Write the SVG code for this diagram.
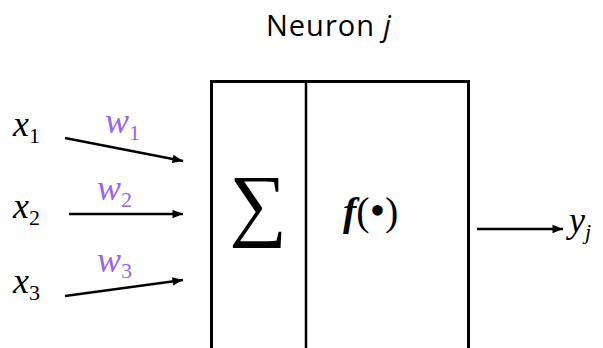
<svg xmlns="http://www.w3.org/2000/svg" width="603" height="348" viewBox="0 0 603 348">
<defs>
<marker id="ah" viewBox="0 0 10 10" refX="10" refY="5" markerWidth="4.6" markerHeight="4.2" orient="auto" markerUnits="strokeWidth">
<path d="M0,1 L10,5 L0,9 z" fill="#000"/>
</marker>
<style>
.mv{font-family:"Liberation Serif",serif;font-style:italic;fill:#000}
.w{fill:#9966ee}
.sub{font-style:normal;font-family:"Liberation Serif",serif}
.ln{stroke:#000;stroke-width:2.5;fill:none;marker-end:url(#ah)}
</style>
</defs>
<rect width="603" height="348" fill="#fff"/>
<text x="266" y="36" font-family="Open Sans, sans-serif" font-size="29" letter-spacing="1" fill="#000">Neuron <tspan font-style="italic" letter-spacing="0">j</tspan></text>
<g id="neuron">
<rect x="211.5" y="81.5" width="257" height="290" fill="none" stroke="#000" stroke-width="3"/>
<line x1="306" y1="81" x2="306" y2="348" stroke="#000" stroke-width="2.5"/>
</g>
<g id="sum"><text x="229" y="231" font-family="Liberation Serif, serif" font-size="81" fill="#000">∑</text></g>
<g id="act"><text x="343" y="225" font-family="Liberation Serif, serif" font-size="40" fill="#000"><tspan font-weight="bold" font-style="italic">f</tspan>(<tspan font-size="44">•</tspan>)</text></g>
<g id="x1"><text x="13" y="136" class="mv" font-size="36">x<tspan class="sub" font-size="22" dy="7">1</tspan></text></g>
<g id="x2"><text x="13" y="218" class="mv" font-size="36">x<tspan class="sub" font-size="22" dy="7">2</tspan></text></g>
<g id="x3"><text x="13" y="293" class="mv" font-size="36">x<tspan class="sub" font-size="22" dy="7">3</tspan></text></g>
<g id="w1"><text x="105" y="133" class="mv w" font-size="36">w<tspan class="sub" font-size="22" dy="7">1</tspan></text></g>
<g id="w2"><text x="97" y="200" class="mv w" font-size="36">w<tspan class="sub" font-size="22" dy="7">2</tspan></text></g>
<g id="w3"><text x="97" y="272" class="mv w" font-size="36">w<tspan class="sub" font-size="22" dy="6">3</tspan></text></g>
<g id="yj"><text x="569" y="232" class="mv" font-size="36">y<tspan font-size="22" dy="7">j</tspan></text></g>
<g id="connectors">
<line class="ln" x1="65" y1="138" x2="183" y2="161"/>
<line class="ln" x1="69" y1="214" x2="183" y2="214"/>
<line class="ln" x1="65" y1="296" x2="183" y2="280"/>
<line class="ln" x1="477" y1="229" x2="563" y2="229"/>
</g>
</svg>
